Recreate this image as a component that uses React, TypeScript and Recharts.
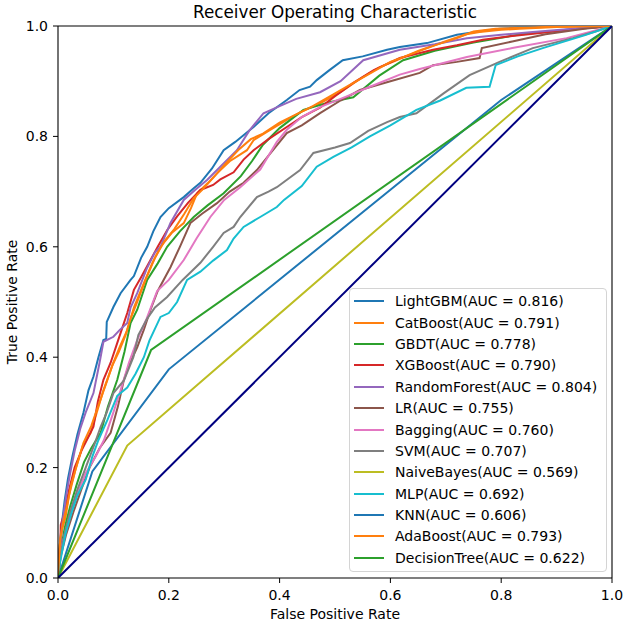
import { LineChart, Line, XAxis, YAxis, ReferenceLine, Legend } from "recharts";

type Pt = [number, number];

// ROC points: [false positive rate, true positive rate]
const lightgbm: Pt[] = [
  [0, 0], [0.002, 0.04], [0.006, 0.09], [0.012, 0.14], [0.018, 0.18], [0.026, 0.22], [0.035, 0.26],
  [0.046, 0.3], [0.055, 0.34], [0.064, 0.365], [0.073, 0.4], [0.082, 0.431], [0.087, 0.433],
  [0.088, 0.464], [0.1, 0.491], [0.113, 0.516], [0.131, 0.54], [0.137, 0.547], [0.15, 0.58],
  [0.161, 0.6], [0.172, 0.628], [0.185, 0.654], [0.2, 0.67], [0.227, 0.69], [0.245, 0.706],
  [0.257, 0.716], [0.278, 0.742], [0.299, 0.775], [0.32, 0.79], [0.353, 0.817], [0.38, 0.842],
  [0.413, 0.866], [0.436, 0.884], [0.455, 0.89], [0.467, 0.902], [0.49, 0.92], [0.514, 0.938],
  [0.55, 0.945], [0.594, 0.957], [0.617, 0.962], [0.666, 0.969], [0.72, 0.984], [0.76, 0.99],
  [0.797, 0.995], [0.85, 0.998], [0.9, 1], [1, 1],
];
const catboost: Pt[] = [
  [0, 0], [0.003, 0.06], [0.008, 0.09], [0.0135, 0.11], [0.02, 0.15], [0.0315, 0.196], [0.045, 0.24],
  [0.059, 0.263], [0.07, 0.3], [0.082, 0.34], [0.1, 0.39], [0.112, 0.42], [0.125, 0.449],
  [0.137, 0.49], [0.155, 0.534], [0.17, 0.57], [0.185, 0.6], [0.205, 0.625], [0.227, 0.643],
  [0.24, 0.67], [0.251, 0.697], [0.27, 0.715], [0.287, 0.733], [0.31, 0.755], [0.341, 0.775],
  [0.353, 0.793], [0.38, 0.81], [0.413, 0.83], [0.44, 0.845], [0.473, 0.86], [0.51, 0.88],
  [0.551, 0.908], [0.58, 0.925], [0.611, 0.938], [0.65, 0.955], [0.696, 0.971], [0.737, 0.985],
  [0.761, 0.989], [0.8, 0.993], [0.833, 0.995], [0.9, 0.998], [1, 1],
];
const gbdt: Pt[] = [
  [0, 0], [0.005, 0.05], [0.012, 0.09], [0.022, 0.13], [0.034, 0.17], [0.047, 0.21], [0.06, 0.235],
  [0.077, 0.263], [0.09, 0.31], [0.107, 0.359], [0.12, 0.41], [0.131, 0.462], [0.143, 0.486],
  [0.161, 0.54], [0.18, 0.57], [0.197, 0.6], [0.22, 0.628], [0.245, 0.654], [0.27, 0.675],
  [0.299, 0.697], [0.33, 0.728], [0.35, 0.755], [0.37, 0.785], [0.4, 0.815], [0.443, 0.848],
  [0.49, 0.862], [0.533, 0.871], [0.58, 0.91], [0.623, 0.938], [0.68, 0.955], [0.75, 0.97],
  [0.83, 0.984], [0.918, 0.993], [1, 1],
];
const xgboost: Pt[] = [
  [0, 0], [0.0045, 0.069], [0.005, 0.096], [0.012, 0.12], [0.02, 0.16], [0.03, 0.2], [0.042, 0.23],
  [0.052, 0.25], [0.064, 0.274], [0.072, 0.32], [0.082, 0.359], [0.095, 0.39], [0.107, 0.426],
  [0.115, 0.45], [0.125, 0.48], [0.137, 0.522], [0.15, 0.545], [0.167, 0.576], [0.18, 0.6],
  [0.197, 0.63], [0.215, 0.655], [0.235, 0.68], [0.257, 0.703], [0.28, 0.712], [0.293, 0.722],
  [0.317, 0.735], [0.335, 0.758], [0.353, 0.775], [0.38, 0.795], [0.413, 0.817], [0.44, 0.835],
  [0.473, 0.852], [0.5, 0.873], [0.533, 0.897], [0.57, 0.92], [0.617, 0.942], [0.677, 0.957],
  [0.72, 0.965], [0.767, 0.975], [0.82, 0.982], [0.887, 0.989], [0.95, 0.996], [1, 1],
];
const randomForest: Pt[] = [
  [0, 0], [0.003, 0.05], [0.008, 0.1], [0.015, 0.15], [0.022, 0.19], [0.03, 0.23], [0.04, 0.27],
  [0.05, 0.3], [0.064, 0.335], [0.075, 0.39], [0.082, 0.428], [0.1, 0.437], [0.112, 0.45],
  [0.125, 0.462], [0.131, 0.49], [0.143, 0.516], [0.16, 0.56], [0.175, 0.59], [0.185, 0.6],
  [0.203, 0.643], [0.227, 0.685], [0.25, 0.705], [0.269, 0.721], [0.293, 0.745], [0.323, 0.775],
  [0.345, 0.81], [0.371, 0.842], [0.4, 0.855], [0.43, 0.868], [0.473, 0.88], [0.51, 0.9],
  [0.551, 0.938], [0.617, 0.957], [0.68, 0.967], [0.738, 0.978], [0.8, 0.984], [0.857, 0.989],
  [0.93, 0.995], [1, 1],
];
const lr: Pt[] = [
  [0, 0], [0.005, 0.04], [0.015, 0.08], [0.028, 0.12], [0.042, 0.16], [0.057, 0.2], [0.075, 0.235],
  [0.095, 0.263], [0.108, 0.31], [0.119, 0.359], [0.13, 0.39], [0.143, 0.418], [0.155, 0.45],
  [0.167, 0.486], [0.18, 0.52], [0.203, 0.563], [0.22, 0.6], [0.239, 0.643], [0.26, 0.66],
  [0.287, 0.679], [0.31, 0.7], [0.335, 0.716], [0.359, 0.739], [0.38, 0.765], [0.413, 0.806],
  [0.44, 0.82], [0.473, 0.842], [0.51, 0.865], [0.545, 0.884], [0.6, 0.9], [0.653, 0.915],
  [0.677, 0.929], [0.72, 0.935], [0.761, 0.942], [0.765, 0.96], [0.82, 0.972], [0.88, 0.985],
  [0.95, 0.995], [1, 1],
];
const bagging: Pt[] = [
  [0, 0], [0.005, 0.05], [0.015, 0.09], [0.03, 0.14], [0.05, 0.19], [0.068, 0.22], [0.083, 0.25],
  [0.1, 0.3], [0.113, 0.34], [0.128, 0.39], [0.143, 0.431], [0.16, 0.47], [0.179, 0.52],
  [0.2, 0.54], [0.227, 0.576], [0.25, 0.615], [0.275, 0.654], [0.3, 0.685], [0.329, 0.708],
  [0.365, 0.74], [0.395, 0.79], [0.413, 0.812], [0.44, 0.835], [0.473, 0.853], [0.52, 0.872],
  [0.563, 0.89], [0.617, 0.912], [0.653, 0.922], [0.738, 0.944], [0.82, 0.96], [0.918, 0.978],
  [1, 1],
];
const svm: Pt[] = [
  [0, 0], [0.004, 0.04], [0.012, 0.08], [0.022, 0.12], [0.035, 0.16], [0.05, 0.2], [0.065, 0.24],
  [0.077, 0.274], [0.088, 0.3], [0.1, 0.335], [0.119, 0.358], [0.136, 0.4], [0.145, 0.44],
  [0.161, 0.47], [0.175, 0.49], [0.197, 0.509], [0.225, 0.54], [0.257, 0.571], [0.28, 0.6],
  [0.299, 0.625], [0.317, 0.636], [0.329, 0.654], [0.359, 0.69], [0.38, 0.7], [0.395, 0.708],
  [0.437, 0.739], [0.461, 0.77], [0.5, 0.78], [0.527, 0.788], [0.56, 0.81], [0.594, 0.826],
  [0.617, 0.835], [0.647, 0.842], [0.696, 0.878], [0.743, 0.911], [0.797, 0.935], [0.857, 0.96],
  [0.929, 0.978], [0.97, 0.99], [1, 1],
];
const naiveBayes: Pt[] = [[0, 0], [0.125, 0.24], [1, 1]];
const mlp: Pt[] = [
  [0, 0], [0.004, 0.03], [0.0135, 0.08], [0.025, 0.12], [0.035, 0.15], [0.05, 0.178], [0.062, 0.22],
  [0.073, 0.25], [0.089, 0.286], [0.107, 0.33], [0.125, 0.345], [0.14, 0.37], [0.155, 0.4],
  [0.165, 0.43], [0.185, 0.473], [0.2, 0.48], [0.215, 0.5], [0.233, 0.54], [0.257, 0.555],
  [0.28, 0.575], [0.305, 0.594], [0.317, 0.615], [0.335, 0.636], [0.365, 0.654], [0.395, 0.672],
  [0.408, 0.685], [0.44, 0.71], [0.467, 0.745], [0.497, 0.763], [0.53, 0.78], [0.563, 0.8],
  [0.6, 0.82], [0.647, 0.848], [0.69, 0.865], [0.737, 0.888], [0.779, 0.89], [0.79, 0.929],
  [0.83, 0.945], [0.875, 0.96], [0.953, 0.984], [1, 1],
];
const knn: Pt[] = [[0, 0], [0.062, 0.193], [0.2, 0.378], [0.8, 0.866], [1, 1]];
const adaboost: Pt[] = [
  [0, 0], [0.004, 0.07], [0.009, 0.1], [0.016, 0.13], [0.024, 0.17], [0.034, 0.205], [0.046, 0.245],
  [0.06, 0.275], [0.072, 0.31], [0.086, 0.35], [0.098, 0.385], [0.11, 0.41], [0.122, 0.44],
  [0.131, 0.47], [0.143, 0.5], [0.158, 0.54], [0.175, 0.58], [0.192, 0.61], [0.21, 0.632],
  [0.228, 0.66], [0.245, 0.688], [0.262, 0.705], [0.28, 0.725], [0.3, 0.748], [0.325, 0.775],
  [0.348, 0.795], [0.37, 0.805], [0.4, 0.825], [0.43, 0.84], [0.46, 0.855], [0.49, 0.872],
  [0.53, 0.895], [0.565, 0.915], [0.6, 0.935], [0.64, 0.95], [0.68, 0.965], [0.72, 0.978],
  [0.75, 0.99], [0.79, 0.995], [0.88, 0.998], [1, 1],
];
const decisionTree: Pt[] = [[0, 0], [0.168, 0.413], [1, 1]];
const chance: Pt[] = [[0, 0], [1, 1]];

const modelNames = [
  "LightGBM", "CatBoost", "GBDT", "XGBoost", "RandomForest", "LR", "Bagging",
  "SVM", "NaiveBayes", "MLP", "KNN", "AdaBoost", "DecisionTree",
];
const aucValues = [
  "0.816", "0.791", "0.778", "0.790", "0.804", "0.755", "0.760",
  "0.707", "0.569", "0.692", "0.606", "0.793", "0.622",
];
const curves = [
  lightgbm, catboost, gbdt, xgboost, randomForest, lr, bagging,
  svm, naiveBayes, mlp, knn, adaboost, decisionTree,
];
const colors = [
  "#1f77b4", "#ff7f0e", "#2ca02c", "#d62728", "#9467bd", "#8c564b", "#e377c2",
  "#7f7f7f", "#bcbd22", "#17becf", "#1f77b4", "#ff7f0e", "#2ca02c",
];
const ticks = [0, 0.2, 0.4, 0.6, 0.8, 1.0];

const rows = (pts: Pt[]) => pts.map(([fpr, tpr]) => ({ fpr, tpr }));
const FONT = '"DejaVu Sans", sans-serif';

// fixed-position text; prop names kept distinct from the ones Recharts injects
function AxisTitle({ px, py, rot = 0, size = 14, text }: { px: number; py: number; rot?: number; size?: number; text: string }) {
  return (
    <text
      x={px}
      y={py}
      textAnchor="middle"
      fontSize={size}
      fontFamily={FONT}
      fill="#000"
      transform={rot ? `rotate(${rot} ${px} ${py})` : undefined}
    >
      {text}
    </text>
  );
}

function LegendBox() {
  return (
    <div
      style={{
        width: 258,
        height: 284,
        boxSizing: "border-box",
        border: "1px solid #d4d4d4",
        borderRadius: 4,
        background: "rgba(255,255,255,0.85)",
        paddingTop: 1.5,
        fontFamily: FONT,
        fontSize: 14,
        color: "#000",
      }}
    >
      {modelNames.map((name, i) => (
        <div key={name} style={{ display: "flex", alignItems: "center", height: 21.4, whiteSpace: "nowrap" }}>
          <span style={{ width: 30, height: 2, marginLeft: 4, background: colors[i], display: "inline-block" }} />
          <span style={{ marginLeft: 11 }}>{`${name}(AUC = ${aucValues[i]})`}</span>
        </div>
      ))}
    </div>
  );
}

export default function App() {
  return (
    <div style={{ position: "absolute", left: 0, top: 0, width: 628, height: 625, background: "#fff", fontFamily: FONT }}>
      <LineChart width={628} height={625} margin={{ top: 26, right: 16, bottom: 0, left: 0 }}>
        <XAxis
          type="number"
          dataKey="fpr"
          domain={[0, 1]}
          ticks={ticks}
          allowDataOverflow
          tickFormatter={(v: number) => v.toFixed(1)}
          height={47}
          tickSize={5}
          tickMargin={7}
          axisLine={{ stroke: "#000", strokeWidth: 1.1 }}
          tickLine={{ stroke: "#000" }}
          tick={{ fill: "#000", fontSize: 14, fontFamily: FONT }}
          label={<AxisTitle px={335} py={619} text="False Positive Rate" />}
        />
        <YAxis
          type="number"
          domain={[0, 1]}
          ticks={ticks}
          allowDataOverflow
          tickFormatter={(v: number) => v.toFixed(1)}
          width={58}
          tickSize={5}
          tickMargin={5}
          axisLine={{ stroke: "#000", strokeWidth: 1.1 }}
          tickLine={{ stroke: "#000" }}
          tick={{ fill: "#000", fontSize: 14, fontFamily: FONT }}
          label={<AxisTitle px={17} py={302} rot={-90} text="True Positive Rate" />}
        />
        <ReferenceLine
          y={1}
          stroke="#000"
          strokeWidth={1.1}
          ifOverflow="visible"
          label={<AxisTitle px={335} py={18} size={16.8} text="Receiver Operating Characteristic" />}
        />
        <ReferenceLine x={1} stroke="#000" strokeWidth={1.1} ifOverflow="visible" />
        {curves.map((pts, i) => (
          <Line
            key={modelNames[i]}
            name={`${modelNames[i]}(AUC = ${aucValues[i]})`}
            data={rows(pts)}
            dataKey="tpr"
            type="linear"
            stroke={colors[i]}
            strokeWidth={2}
            dot={false}
            activeDot={false}
            isAnimationActive={false}
          />
        ))}
        <Line
          data={rows(chance)}
          dataKey="tpr"
          type="linear"
          stroke="#000080"
          strokeWidth={2}
          dot={false}
          activeDot={false}
          legendType="none"
          isAnimationActive={false}
        />
        <Legend
          layout="vertical"
          align="center"
          verticalAlign="middle"
          content={<LegendBox />}
          wrapperStyle={{ left: 349, top: 288, width: 258, height: 284 }}
        />
      </LineChart>
    </div>
  );
}
